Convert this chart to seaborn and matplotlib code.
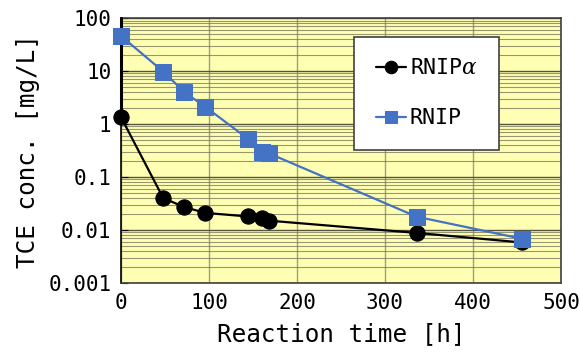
import matplotlib
matplotlib.use("Agg")
import matplotlib.pyplot as plt
import matplotlib.ticker as mticker
import seaborn as sns
import pandas as pd

# --- data ---
t_alpha = [0, 48, 72, 96, 144, 160, 168, 336, 456]
c_alpha = [1.35, 0.040, 0.027, 0.021, 0.018, 0.017, 0.015, 0.0088, 0.0058]
t_rnip = [0, 48, 72, 96, 144, 160, 168, 336, 456]
c_rnip = [46, 9.8, 4.0, 2.1, 0.53, 0.30, 0.28, 0.0178, 0.0068]
x_ticks = [0, 100, 200, 300, 400, 500]
y_ticks = [0.001, 0.01, 0.1, 1, 10, 100]
y_tick_labels = ["0.001", "0.01", "0.1", "1", "10", "100"]
label_alpha = "RNIP$\\alpha$"
label_rnip = "RNIP"

sns.set_style("white")
plt.rcParams['font.family'] = ['DejaVu Sans Mono', 'DejaVu Sans']
plt.rcParams['mathtext.fontset'] = 'dejavuserif'
plt.rcParams['text.color'] = 'black'
plt.rcParams['axes.labelcolor'] = 'black'
plt.rcParams['xtick.color'] = 'black'
plt.rcParams['ytick.color'] = 'black'

fig = plt.figure(figsize=(5.8, 3.55), dpi=100)
ax = fig.add_axes([0.2086, 0.203, 0.7586, 0.746])
ax.set_facecolor("#FFFFB3")

df_a = pd.DataFrame({"t": t_alpha, "c": c_alpha})
df_r = pd.DataFrame({"t": t_rnip, "c": c_rnip})

# vertical line at t=0 rising from first alpha point
ax.plot([t_alpha[0], t_alpha[0]], [c_alpha[0], 100], color="black", lw=2.2, zorder=3, clip_on=False)

sns.lineplot(data=df_a, x="t", y="c", ax=ax, color="black", lw=1.6, marker="o",
             markersize=11, markeredgecolor="black", label=label_alpha, zorder=4, clip_on=False)
sns.lineplot(data=df_r, x="t", y="c", ax=ax, color="#4472C4", lw=1.6, marker="s",
             markersize=12, markeredgecolor="#4472C4", label=label_rnip, zorder=5, clip_on=False)

ax.set_yscale("log")
ax.set_xlim(0, 500)
ax.set_ylim(0.001, 100)
ax.set_xticks(x_ticks)
ax.set_yticks(y_ticks)
ax.set_yticklabels(y_tick_labels)
ax.yaxis.set_minor_locator(mticker.LogLocator(base=10, subs=range(2, 10)))
ax.yaxis.set_minor_formatter(mticker.NullFormatter())

ax.grid(True, which="major", axis="y", color="#555540", lw=1.0)
ax.grid(True, which="minor", axis="y", color="#7C7C60", lw=0.8, alpha=0.8)
ax.grid(True, which="major", axis="x", color="#A0A080", lw=1.0)
ax.set_axisbelow(True)

for s in ax.spines.values():
    s.set_color("#404040")
    s.set_linewidth(1.2)
ax.spines["left"].set_color("black")

ax.tick_params(axis="both", which="major", labelsize=15, length=0, pad=7, colors="black")
ax.tick_params(axis="y", which="major", length=5, direction="in", left=True)
ax.tick_params(axis="y", which="minor", length=0)

ax.set_xlabel("Reaction time [h]", fontsize=17.5, labelpad=7, color="black")
ax.set_ylabel("TCE conc. [mg/L]", fontsize=17.5, labelpad=6, color="black")

leg = ax.legend(loc="upper right", bbox_to_anchor=(0.86, 0.93), fontsize=15.5, frameon=True,
                fancybox=False, edgecolor="#404040", framealpha=1, handlelength=1.4,
                handletextpad=0.2, labelspacing=1.4, borderpad=1.0, borderaxespad=0)
leg.get_frame().set_linewidth(1.2)
for h in leg.legend_handles:
    h.set_markersize(9)
for t in leg.get_texts():
    t.set_color("black")

fig.savefig("out.png", dpi=100)
